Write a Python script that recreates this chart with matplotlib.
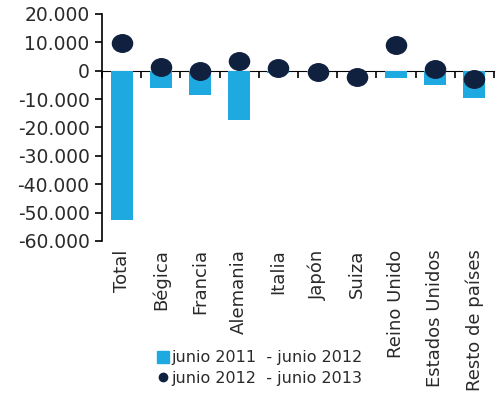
import matplotlib.pyplot as plt
import numpy as np
from matplotlib.path import Path
from matplotlib.transforms import Affine2D

categorias = ['Total', 'Bégica', 'Francia', 'Alemania', 'Italia', 'Japón',
              'Suiza', 'Reino Unido', 'Estados Unidos', 'Resto de países']
serie_2011_2012 = [-52600, -6100, -8500, -17300, -800, -600, -100, -2600, -4900, -9700]
serie_2012_2013 = [9800, 1300, -200, 3300, 800, -500, -2100, 9200, 700, -2900]
yticks = [20000, 10000, 0, -10000, -20000, -30000, -40000, -50000, -60000]

azul = '#1eaae1'
marino = '#10203f'
gris = '#2a2a2a'

plt.rcParams['font.family'] = ['DejaVu Sans']

fig = plt.figure(figsize=(4.98, 3.97), dpi=100)
ax = fig.add_axes([0.205, 0.393, 0.787, 0.572])

# punto ligeramente ovalado como en el original
ovalo = Path.unit_circle().transformed(Affine2D().scale(1.15, 1.0))

x = np.arange(len(categorias))
ax.bar(x, serie_2011_2012, width=0.56, color=azul, zorder=2)
ax.plot(x, serie_2012_2013, linestyle='none', marker=ovalo, color=marino,
        markersize=14.5, zorder=3)

ax.set_xlim(-0.5, len(categorias) - 0.5)
ax.set_ylim(-60000, 20000)
ax.set_yticks(yticks)
ax.set_yticklabels([f'{v:,}'.replace(',', '.') for v in yticks], fontsize=13.5, color=gris)
ax.tick_params(axis='y', direction='out', length=5, width=1.2, pad=4)

ax.spines['top'].set_visible(False)
ax.spines['right'].set_visible(False)
ax.spines['bottom'].set_visible(False)
ax.spines['left'].set_linewidth(1.2)

ax.set_xticks(x)
ax.set_xticklabels(categorias, rotation=90, fontsize=13, color=gris)
ax.tick_params(axis='x', length=0, pad=6)

# eje en el cero con marcas entre categorías
sec = ax.secondary_xaxis(0.75)
sec.set_xticks(np.arange(len(categorias) + 1) - 0.5)
sec.set_xticklabels([])
sec.tick_params(direction='in', length=5, width=1.2)
sec.spines['bottom'].set_linewidth(1.5)

h1 = plt.Line2D([], [], marker='s', color=azul, linestyle='none', markersize=8)
h2 = plt.Line2D([], [], marker='o', color=marino, linestyle='none', markersize=6)
fig.legend([h1, h2], ['junio 2011  - junio 2012', 'junio 2012  - junio 2013'],
           loc='upper left', bbox_to_anchor=(0.318, 0.118), frameon=False,
           fontsize=11.5, handlelength=0.6, handletextpad=0.2, labelspacing=0.35,
           borderpad=0, borderaxespad=0, labelcolor=gris)

fig.savefig('out.png', dpi=100)
